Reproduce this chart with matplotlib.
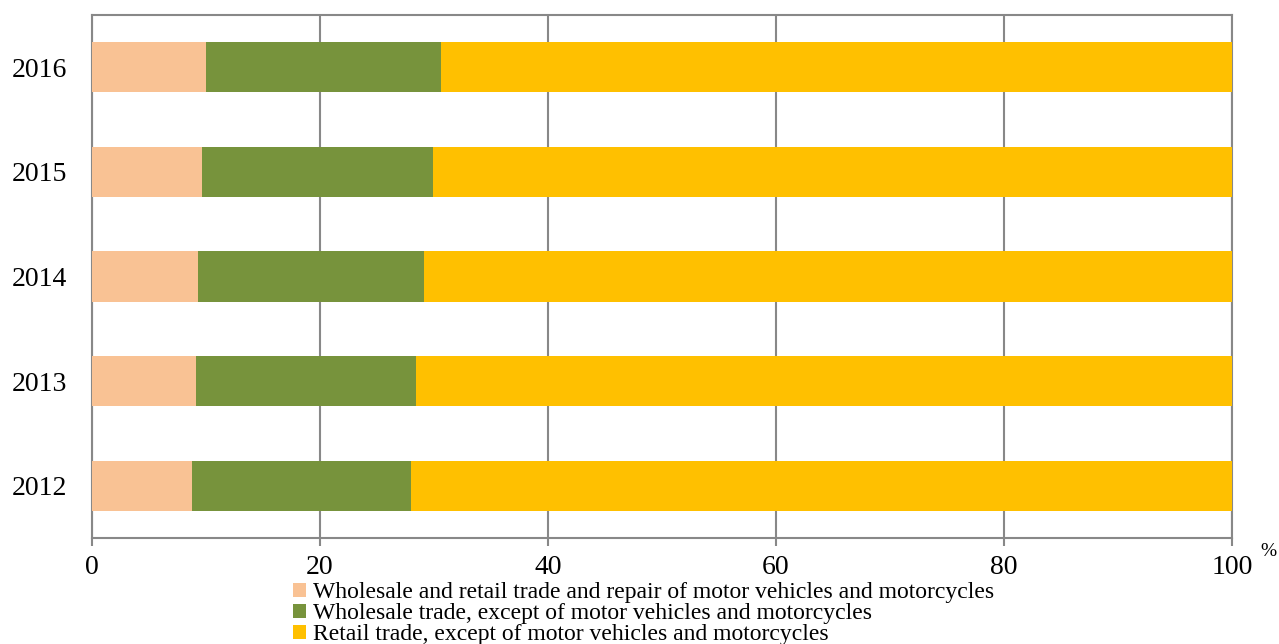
import matplotlib
matplotlib.use("Agg")
import matplotlib.pyplot as plt
import numpy as np
from matplotlib.patches import Patch

years = ["2012", "2013", "2014", "2015", "2016"]
repair_motor = [8.8, 9.1, 9.3, 9.65, 10.0]
wholesale = [19.2, 19.3, 19.8, 20.25, 20.6]
retail = [72.0, 71.6, 70.9, 70.1, 69.4]
series_names = [
    "Wholesale and retail trade and repair of motor vehicles and motorcycles",
    "Wholesale trade, except of motor vehicles and motorcycles",
    "Retail trade, except of motor vehicles and motorcycles",
]
colors = ["#F9C294", "#77933C", "#FFC000"]
xticks = [0, 20, 40, 60, 80, 100]

plt.rcParams['font.family'] = ['Liberation Serif', 'DejaVu Serif']

fig = plt.figure(figsize=(12.79, 6.44), dpi=100)
ax = fig.add_axes([92/1279, 1-538/644, (1232-92)/1279, (538-15)/644])

y = np.arange(len(years))
left = np.zeros(len(years))
for vals, c in zip([repair_motor, wholesale, retail], colors):
    ax.barh(y, vals, left=left, height=0.48, color=c, zorder=3)
    left = left + np.array(vals)

ax.set_xlim(0, 100)
ax.set_ylim(-0.5, len(years) - 0.5)
ax.set_yticks(y)
ax.set_yticklabels(years, fontsize=20)
ax.tick_params(axis='y', length=0, pad=18)
ax.set_xticks(xticks)
ax.set_xticklabels([str(t) for t in xticks], fontsize=20)
ax.tick_params(axis='x', length=6, width=1.5, color='#888888', pad=6)
ax.grid(axis='x', color='#888888', linewidth=1.5, zorder=0)
for s in ax.spines.values():
    s.set_color('#888888')
    s.set_linewidth(1.5)
ax.text(1.032, -0.025, "%", transform=ax.transAxes, fontsize=14, ha='center', va='center')

handles = [Patch(facecolor=c, edgecolor='none') for c in colors]
fig.legend(handles, series_names, loc='upper left', bbox_to_anchor=(293/1279, 1-582/644),
           frameon=False, fontsize=17, handlelength=0.55, handleheight=0.55,
           handletextpad=0.3, labelspacing=0.0, borderpad=0, borderaxespad=0)

fig.savefig("out.png", dpi=100)
